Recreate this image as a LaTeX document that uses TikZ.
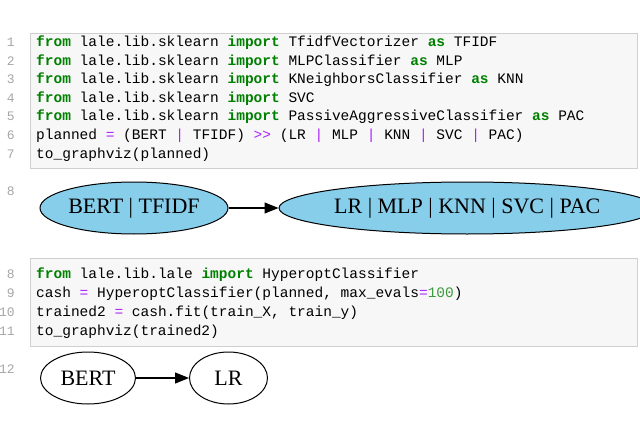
\documentclass[tikz,border=0pt]{standalone}
\usepackage{fontspec}
\setmainfont{Liberation Serif}
\setmonofont{Liberation Mono}
\usetikzlibrary{positioning,shapes.geometric,arrows.meta}
\definecolor{kwgreen}{HTML}{008000}
\definecolor{oppurple}{HTML}{AA22FF}
\definecolor{numgreen}{HTML}{3C9A3C}
\definecolor{cellbg}{HTML}{F7F7F7}
\definecolor{cellframe}{HTML}{CFCFCF}
\definecolor{nodeblue}{HTML}{87CEEB}
\newcommand{\kw}[1]{\textcolor{kwgreen}{\bfseries #1}}
\newcommand{\op}[1]{\textcolor{oppurple}{#1}}
\tikzset{
  codeline/.style={anchor=base west,inner sep=0pt,font=\ttfamily\fontsize{14.5}{16}\selectfont},
  lineno/.style={anchor=base east,inner sep=0pt,text=black!35,font=\ttfamily\fontsize{13}{16}\selectfont},
  cell/.style={draw=cellframe,fill=cellbg},
  opnode/.style={draw,ellipse,line width=1pt,inner sep=0pt,font=\fontsize{22}{24}\selectfont},
  flow/.style={-{Triangle[length=14pt,width=11pt]},line width=1.2pt}
}
\begin{document}
\begin{tikzpicture}[x=1pt,y=-1pt]
  \useasboundingbox (0,0) rectangle (640,436);
  % first cell
  \draw[cell] (30,33) rectangle (637,168);
  \node[lineno] at (15,47) {1};
  \node[codeline] (l1) at (36,47) {\kw{from} lale.lib.sklearn \kw{import} TfidfVectorizer \kw{as} TFIDF};
  \node[lineno] at (15,65.5) {2};
  \node[codeline] (l2) at (36,65.5) {\kw{from} lale.lib.sklearn \kw{import} MLPClassifier \kw{as} MLP};
  \node[lineno] at (15,84) {3};
  \node[codeline] (l3) at (36,84) {\kw{from} lale.lib.sklearn \kw{import} KNeighborsClassifier \kw{as} KNN};
  \node[lineno] at (15,102.5) {4};
  \node[codeline] (l4) at (36,102.5) {\kw{from} lale.lib.sklearn \kw{import} SVC};
  \node[lineno] at (15,121) {5};
  \node[codeline] (l5) at (36,121) {\kw{from} lale.lib.sklearn \kw{import} PassiveAggressiveClassifier \kw{as} PAC};
  \node[lineno] at (15,139.5) {6};
  \node[codeline] (l6) at (36,139.5) {planned \op{=} (BERT \op{|} TFIDF) \op{>>} (LR \op{|} MLP \op{|} KNN \op{|} SVC \op{|} PAC)};
  \node[lineno] at (15,158) {7};
  \node[codeline] (l7) at (36,158) {to\_graphviz(planned)};
  % planned graph
  \node[lineno] at (15,195) {8};
  \node[opnode,fill=nodeblue,minimum width=188pt,minimum height=52pt] (pre) at (134,208) {BERT | TFIDF};
  \node[opnode,fill=nodeblue,minimum width=354pt,minimum height=52pt,right=50pt of pre] (clf) {LR | MLP | KNN | SVC | PAC};
  \draw[flow] (pre) -- (clf);
  % second cell
  \draw[cell] (30,258) rectangle (637,346);
  \node[lineno] at (15,278) {8};
  \node[codeline] (l8) at (36,278) {\kw{from} lale.lib.lale \kw{import} HyperoptClassifier};
  \node[lineno] at (15,297) {9};
  \node[codeline] (l9) at (36,297) {cash \op{=} HyperoptClassifier(planned, max\_evals\op{=}\textcolor{numgreen}{100})};
  \node[lineno] at (15,316) {10};
  \node[codeline] (l10) at (36,316) {trained2 \op{=} cash.fit(train\_X, train\_y)};
  \node[lineno] at (15,335) {11};
  \node[codeline] (l11) at (36,335) {to\_graphviz(trained2)};
  % trained graph
  \node[lineno] at (15,373) {12};
  \node[opnode,minimum width=95pt,minimum height=52pt] (bert) at (88,378) {BERT};
  \node[opnode,minimum width=78pt,minimum height=52pt,right=53pt of bert] (lr) {LR};
  \draw[flow] (bert) -- (lr);
\end{tikzpicture}
\end{document}
